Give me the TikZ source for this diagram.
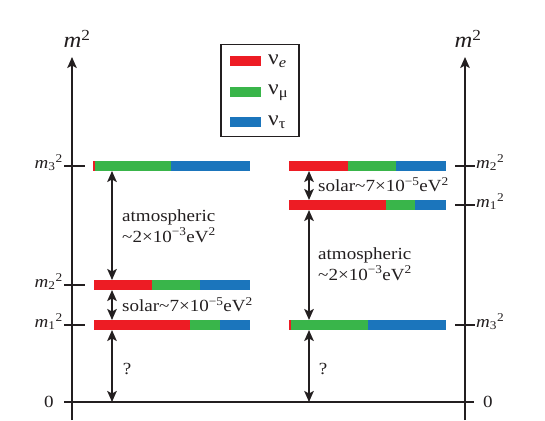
\documentclass[tikz,border=0pt]{standalone}
\usepackage{fontspec}
\setmainfont[FakeStretch=1.12]{Liberation Serif}
\usetikzlibrary{arrows.meta}
\definecolor{nred}{RGB}{237,28,36}
\definecolor{ngreen}{RGB}{57,181,74}
\definecolor{nblue}{RGB}{27,117,188}
\definecolor{ink}{RGB}{35,31,32}
\newcommand\mixbar[5]{%
  \fill[nred] (#2,#1-5) rectangle (#3,#1+5);
  \fill[ngreen] (#3,#1-5) rectangle (#4,#1+5);
  \fill[nblue] (#4,#1-5) rectangle (#5,#1+5);}
\tikzset{
  lbl/.style={font=\fontsize{17}{20.5}\selectfont, text=ink, inner sep=0pt},
  axl/.style={draw=ink, line width=1.6pt},
  tickl/.style={draw=ink, line width=1.6pt},
  dbl/.style={draw=ink, line width=1.9pt,
    {Stealth[length=11pt,width=9.5pt,inset=2.5pt]}-{Stealth[length=11pt,width=9.5pt,inset=2.5pt]}},
  upar/.style={-{Stealth[length=11pt,width=9.5pt,inset=2.5pt]}},
  swatch/.style={minimum width=31pt, minimum height=10pt, inner sep=0pt},
  legl/.style={lbl, font=\fontsize{21}{22}\selectfont, anchor=base west},
}
\begin{document}
\begin{tikzpicture}[x=1pt,y=-1pt]
\useasboundingbox (0,0) rectangle (545,420);
% axes
\coordinate (LB) at (72,420); \coordinate (LT) at (72,57);
\coordinate (RB) at (465,420); \coordinate (RT) at (465,57);
\draw[axl,upar] (LB) -- (LT);
\draw[axl,upar] (RB) -- (RT);
\coordinate (Z0) at (64,402); \coordinate (Z1) at (474,402);
\draw[axl] (Z0) -- (Z1);
\node[lbl, font=\fontsize{22}{24}\selectfont] (mL) at (77,39) {\textit{m}\textsuperscript{2}};
\node[lbl, font=\fontsize{22}{24}\selectfont] (mR) at (468,39) {\textit{m}\textsuperscript{2}};
\node[lbl] (zL) at (49,402) {0};
\node[lbl] (zR) at (488,402) {0};
% ticks left
\foreach \y/\n in {166/3,285/2,325/1}{
  \coordinate (tl\n a) at (64,\y); \coordinate (tl\n b) at (85,\y);
  \draw[tickl] (tl\n a) -- (tl\n b);
  \node[lbl, anchor=mid east] (ml\n) at (63,\y) {\textit{m}\textsubscript{\n}\textsuperscript{2}};
}
% ticks right
\foreach \y/\n in {166/2,205/1,325/3}{
  \coordinate (tr\n a) at (455,\y); \coordinate (tr\n b) at (475,\y);
  \draw[tickl] (tr\n a) -- (tr\n b);
  \node[lbl, anchor=mid west] (mr\n) at (476,\y) {\textit{m}\textsubscript{\n}\textsuperscript{2}};
}
% bars left (normal ordering)
\mixbar{166}{93}{95}{171}{250}
\mixbar{285}{94}{152}{200}{250}
\mixbar{325}{94}{190}{220}{250}
% bars right (inverted ordering)
\mixbar{166}{289}{348}{396}{446}
\mixbar{205}{289}{386}{415}{446}
\mixbar{325}{289}{291}{368}{446}
% arrows left
\coordinate (a1) at (112,171); \coordinate (a2) at (112,280);
\coordinate (a3) at (112,290); \coordinate (a4) at (112,320);
\coordinate (a5) at (112,330); \coordinate (a6) at (112,402);
\draw[dbl] (a1) -- (a2);
\draw[dbl] (a3) -- (a4);
\draw[dbl] (a5) -- (a6);
% arrows right
\coordinate (b1) at (309,171); \coordinate (b2) at (309,200);
\coordinate (b3) at (309,210); \coordinate (b4) at (309,320);
\coordinate (b5) at (309,330); \coordinate (b6) at (309,402);
\draw[dbl] (b1) -- (b2);
\draw[dbl] (b3) -- (b4);
\draw[dbl] (b5) -- (b6);
% texts
\node[lbl, anchor=west, align=left] (atmL) at (122,226) {atmospheric\\\textasciitilde2×10\textsuperscript{−3}eV\textsuperscript{2}};
\node[lbl, anchor=west] (solL) at (122,305) {solar\textasciitilde7×10\textsuperscript{−5}eV\textsuperscript{2}};
\node[lbl] (qL) at (127,369) {?};
\node[lbl, anchor=west, align=left] (atmR) at (318,264) {atmospheric\\\textasciitilde2×10\textsuperscript{−3}eV\textsuperscript{2}};
\node[lbl, anchor=west] (solR) at (318,185) {solar\textasciitilde7×10\textsuperscript{−5}eV\textsuperscript{2}};
\node[lbl] (qR) at (323,369) {?};
% legend
\node[draw=ink, line width=1.2pt, minimum width=78pt, minimum height=92pt, inner sep=0pt] (leg) at (260,90.5) {};
\node[swatch, fill=nred] (se) at (245.5,61) {};
\node[swatch, fill=ngreen] (sm) at (245.5,91.5) {};
\node[swatch, fill=nblue] (st) at (245.5,122) {};
\node[legl] (le) at (268,64) {ν\textsubscript{\textit{e}}};
\node[legl] (lm) at (268,94.5) {ν\textsubscript{μ}};
\node[legl] (lt) at (268,125) {ν\textsubscript{τ}};
\end{tikzpicture}
\end{document}
